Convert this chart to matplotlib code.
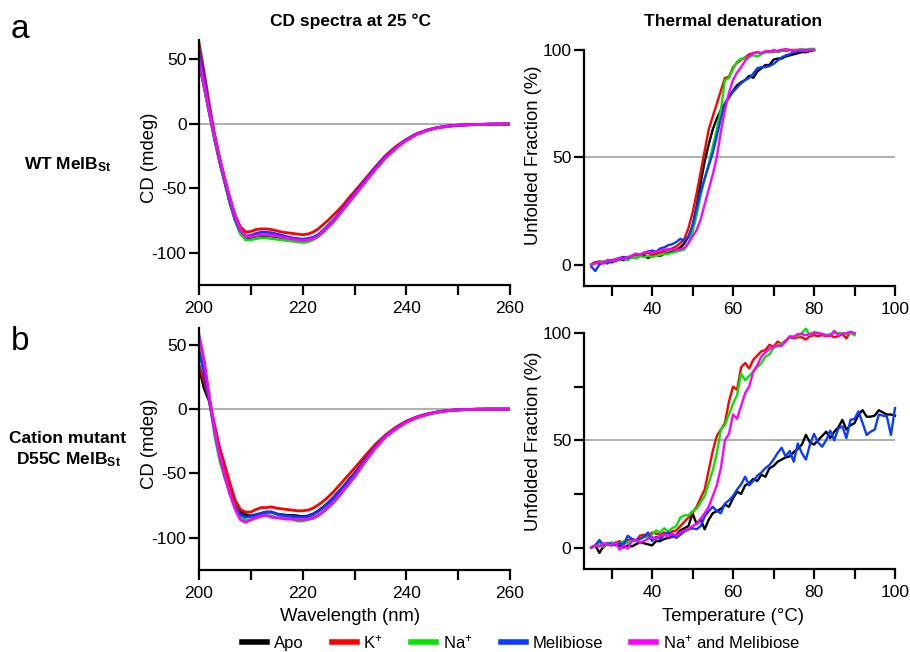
import matplotlib
matplotlib.use('Agg')
import matplotlib.pyplot as plt
from matplotlib.lines import Line2D

plt.rcParams['font.family'] = ['Liberation Sans', 'DejaVu Sans']
plt.rcParams['mathtext.fontset'] = 'custom'
plt.rcParams['mathtext.rm'] = 'Liberation Sans'
plt.rcParams['mathtext.bf'] = 'Liberation Sans:bold'
plt.rcParams['mathtext.it'] = 'Liberation Sans:italic'
plt.rcParams['axes.unicode_minus'] = False

# ---- data ----
wavelength = list(range(200, 231)) + list(range(232, 261, 2))

# panel a, WT MelB_St, CD (mdeg)
cd_wt_apo = [48, 28, 8, -12, -30, -46, -62, -75, -85, -89.5, -89.5, -88.5, -88, -88, -88.5, -89,
             -89.5, -90, -90.5, -91, -91, -90.5, -89, -86.5, -83, -79, -75, -70, -65, -60, -55,
             -45, -35, -26, -18.5, -12.5, -8, -5, -3, -1.8, -1.1, -0.7, -0.5, -0.3, -0.2, -0.2]
cd_wt_k = [63, 40, 15, -8, -27, -43, -58, -71, -80, -84, -83.5, -82, -81.5, -81.5, -82, -83,
           -84, -84.5, -85, -85.5, -86, -85.5, -84, -81.5, -78, -74.5, -70.5, -66.5, -62, -57, -52.5,
           -43, -33.5, -24.5, -17.5, -12, -7.6, -4.8, -2.9, -1.7, -1.0, -0.7, -0.5, -0.3, -0.2, -0.2]
cd_wt_na = [50, 29, 9, -11, -29, -45, -61, -75, -85, -90, -90, -89, -88.5, -88.5, -89, -89.5,
            -90, -90.5, -91, -91.5, -92, -91.5, -90, -87.5, -84, -80, -76, -71, -66, -61, -56,
            -45.5, -35.5, -26.5, -19, -12.8, -8.2, -5.1, -3.1, -1.9, -1.1, -0.7, -0.5, -0.3, -0.2, -0.2]
cd_wt_mel = [57, 35, 12, -9, -28, -44, -60, -74, -83, -87, -86.5, -85, -84, -84, -84.5, -85.5,
             -86.5, -87.5, -88.5, -89, -89.5, -89, -88, -86, -82.5, -78.5, -74.5, -69.5, -64.5, -59.5, -54.5,
             -44.5, -34.5, -25.5, -18.5, -12.5, -8, -5, -3, -1.8, -1.1, -0.7, -0.5, -0.3, -0.2, -0.2]
cd_wt_namel = [50, 30, 10, -9, -27, -43, -58, -72, -82, -87.5, -87.5, -86.5, -86, -86, -86.5, -87,
               -88, -88.5, -89.5, -90, -90.5, -90, -89, -87, -83.5, -79.5, -75.5, -70.5, -65.5, -60.5, -55.5,
               -45.5, -35.5, -26.5, -19, -12.8, -8.2, -5.1, -3.1, -1.9, -1.1, -0.7, -0.5, -0.3, -0.2, -0.1]

# panel b, D55C MelB_St, CD (mdeg)
cd_mut_apo = [33, 16, 6, -16, -36, -52, -65, -75, -80, -82, -83, -82, -81, -80, -80, -81.5,
              -82, -82.5, -82.5, -83, -83.5, -83, -81.5, -79, -76, -72.5, -68.5, -64, -59.5, -54.5, -50,
              -39.5, -29.5, -21, -15, -10, -6.5, -4, -2.3, -1.2, -0.6, -0.3, -0.1, 0, 0, 0]
cd_mut_k = [34, 22, 7, -12, -30, -44, -58, -71, -78, -80, -80, -78, -76.5, -76.5, -76, -77,
            -77.5, -78, -78.5, -79, -79, -78.5, -77, -74.5, -71.5, -68, -64, -59.5, -55, -50.5, -46,
            -36.5, -27.5, -20, -14, -9.3, -6, -3.7, -2.1, -1.1, -0.5, -0.2, 0, 0, 0, 0]
cd_mut_na = [50, 32, 8, -20, -40, -54, -66, -76, -83, -86.5, -86, -84.5, -83.5, -82.5, -83, -84.5,
             -84, -84.5, -85.5, -87, -87, -86, -85, -83, -80, -76.5, -72.5, -68, -63, -58, -53,
             -41, -30.5, -21.5, -15.5, -10.3, -6.7, -4.2, -2.4, -1.3, -0.7, -0.3, -0.1, 0, 0, 0]
cd_mut_mel = [45, 28, 7, -16, -36, -52, -66, -77, -82, -84, -83.5, -82.5, -81, -80, -80, -81.5,
              -82.5, -83, -83.5, -84, -84, -83.5, -82, -79.5, -76.5, -73, -69, -64.5, -60, -55, -50.5,
              -39.5, -29.5, -21, -15, -10, -6.5, -4, -2.3, -1.2, -0.6, -0.3, -0.1, 0, 0, 0]
cd_mut_namel = [58, 38, 10, -16, -36, -52, -66, -78, -86, -88, -86, -84.5, -83, -82.5, -84, -84.5,
                -85, -85.5, -85.5, -86, -86, -85.5, -84.5, -82.5, -79.5, -76, -72, -67.5, -62.5, -57.5, -52.5,
                -41, -30.5, -21.5, -15.5, -10.3, -6.7, -4.2, -2.4, -1.3, -0.7, -0.3, -0.1, 0, 0, 0]

# thermal denaturation, unfolded fraction (%)
temp_80 = list(range(25, 81))
temp_90 = list(range(25, 91))
temp_100 = list(range(25, 101))

tm_wt_apo = [0, 1, 0.5, 1, 1.5, 1, 2, 2.5, 2, 3,
             3.5, 3, 4, 4.5, 3, 4, 4.5, 4, 5, 5.5,
             6, 7, 8, 10, 13, 18, 27, 38, 48, 56,
             63, 68, 72, 75, 78, 81, 83.5, 85, 86, 88,
             87, 90, 91.5, 93, 93, 95.5, 96, 96, 97, 97.5,
             98, 98.5, 99, 99, 99.5, 100]
tm_wt_k = [0, 1, 1.5, 1, 2, 2, 2.5, 3, 3.5, 3,
           4, 4.5, 4, 5, 5.5, 4.5, 5, 5.5, 6, 7,
           7.5, 8.5, 10, 12, 17, 24, 33, 43, 53, 63,
           69, 75, 81, 87, 87.5, 92, 94, 95.5, 96.5, 98,
           98.5, 99, 98.5, 99, 99.5, 99, 99.5, 100, 99.5, 100,
           100, 100, 100, 100, 100, 100]
tm_wt_na = [0, 0.5, 1, 1.5, 1, 2, 2, 3, 2.5, 2,
            3.5, 3, 4, 3.5, 4, 3.5, 4, 4.5, 5, 5,
            5.5, 6, 6.5, 7, 10, 15, 23, 32, 40, 47,
            55, 63, 72, 86, 87, 91, 94.5, 96, 96, 97,
            97.5, 97, 98, 99, 99, 99.5, 99, 99.5, 100, 100,
            100, 100, 100.5, 100, 100.5, 100.5]
tm_wt_mel = [-1, -3, 0, 1, 0.5, 2, 1.5, 3, 3.5, 3,
             4, 5, 4.5, 5.5, 6, 6.5, 6, 7.5, 8, 9,
             9.5, 10.5, 12, 11, 13, 18, 26, 34, 40, 46,
             52, 60, 68, 75, 78, 80.5, 82.5, 84.5, 86, 87,
             89, 91.5, 92, 92, 92.5, 93.5, 95, 96.5, 97.5, 98,
             99, 99.5, 99.5, 100, 100, 100]
tm_wt_namel = [0, 0.5, 1, 0.5, 2, 1.5, 2, 3, 2.5, 3.5,
               4, 5, 4.5, 5.5, 6, 5.5, 6, 6.5, 7, 7,
               7, 7, 7, 8, 10, 13, 16, 21, 28, 35,
               42, 50, 62, 72, 80, 86, 89.5, 92, 95, 97,
               98.5, 99, 98.5, 99.5, 99, 100, 99.5, 100, 100.5, 100,
               99.5, 100, 100, 99.5, 100, 100]

tm_mut_apo = [0, 1, -2.5, 0.5, 1.5, 1, 2, 1, 0, 1,
              0.5, 1.5, 2.5, 2, 1.5, 1, 3, 3, 4, 4.5,
              5, 6, 8, 9, 10, 16, 11, 13, 8.5, 13,
              16, 17, 18, 20, 19, 23, 26, 25, 29, 30,
              32, 31, 34, 33, 37, 38, 40, 41, 42, 42.5,
              44.5, 46, 48, 52.5, 49, 48, 50, 52, 54, 51,
              54, 56, 59.5, 55, 57, 58, 62, 64, 61, 61,
              61.5, 64, 63, 62, 62, 61.5]
tm_mut_k = [0, 1, 3, 0, 2, 1.5, 2, 3, 1.5, 3.5,
            4, 3, 5.5, 6, 5, 7, 6.5, 6, 7, 6.5,
            7.5, 8, 10, 12, 14, 16, 19, 23, 27, 36,
            45, 52, 55, 58, 68, 75, 73.5, 84, 86, 83.5,
            87.5, 89.5, 91.5, 92, 94.5, 93.5, 96, 95, 96.5, 98,
            97.5, 98, 98, 97, 98.5, 99, 98.5, 99, 98.5, 99,
            98, 98.5, 99.5, 97.5, 100.5, 99.5]
tm_mut_na = [0, 1, 2, 0.5, 1.5, 2.5, 1.5, 2, 3, 2,
             3.5, 3, 4, 5, 4.5, 6, 8, 7, 9, 7.5,
             9, 10, 14, 15, 15, 17, 18, 21, 24, 30,
             36, 44, 55, 57, 62, 67, 71, 81, 78, 80,
             82, 84, 86, 89, 90, 93, 94.5, 95, 96, 98,
             98.5, 98.5, 100, 102, 99, 100.5, 100, 99.5, 99, 99.5,
             100, 100, 100, 99.5, 100, 99]
tm_mut_mel = [0, 1, 3.5, 1, 2, 1.5, 1, 2, 1.5, 5.5,
              4, 3.5, 4, 5, 7, 3, 5, 4, 6, 7,
              5.5, 4.5, 6, 7.5, 8.5, 9, 8.5, 10, 14.5, 17,
              19, 17, 16, 20.5, 22, 24, 27, 29.5, 33, 29,
              31, 33.5, 35, 37, 38.5, 41, 44, 46.5, 42.5, 45,
              40, 48.5, 44, 41, 48, 53, 49, 47, 50, 54.5,
              50, 55.5, 56.5, 51, 59.5, 60, 63.5, 58, 52.5, 54,
              55, 62, 61.5, 61, 52.5, 65]
tm_mut_namel = [0, 1, 0.5, 2, 1.5, 1, 2.5, -1, 1, -0.5,
                3, 3.5, 2.5, 3, 4, 5, 4, 5.5, 6, 5,
                6.5, 5.5, 7, 8, 8.5, 10, 11, 13.5, 16, 19,
                24, 29, 37, 50, 53, 62, 60, 66, 72, 75,
                82, 85, 89, 91, 92.5, 93.5, 94, 94, 96, 98.5,
                98, 99.5, 99.5, 99, 99.5, 100, 100, 99.5, 99, 98.5,
                101, 99, 99.5, 100, 100.5, 100]

labels = ['Apo', 'K$^{+}$', 'Na$^{+}$', 'Melibiose', 'Na$^{+}$ and Melibiose']
colors = ['#000000', '#ff0000', '#00e600', '#0a3cff', '#ff00ff']

W, H = 910, 652
fig = plt.figure(figsize=(W / 100, H / 100), dpi=100)


def px_axes(x0, y0, x1, y1):
    return fig.add_axes([x0 / W, 1 - y1 / H, (x1 - x0) / W, (y1 - y0) / H])


def style(ax):
    ax.spines['top'].set_visible(False)
    ax.spines['right'].set_visible(False)
    ax.spines['left'].set_linewidth(1.6)
    ax.spines['bottom'].set_linewidth(1.6)
    ax.tick_params(which='both', direction='out', length=7, width=1.6, labelsize=12.5)
    ax.tick_params(axis='x', pad=4.5)
    ax.tick_params(axis='y', pad=2)


ax_a1 = px_axes(199, 40, 510, 285)
ax_a2 = px_axes(584, 50, 895, 286)
ax_b1 = px_axes(199, 328, 510, 570)
ax_b2 = px_axes(584, 333, 895, 569)

# CD spectra
for ax, series, ytop, ly in [(ax_a1, [cd_wt_apo, cd_wt_k, cd_wt_na, cd_wt_mel, cd_wt_namel], 65, 0.52),
                             (ax_b1, [cd_mut_apo, cd_mut_k, cd_mut_na, cd_mut_mel, cd_mut_namel], 63, 0.52)]:
    ax.axhline(0, color='#999999', lw=1.1, zorder=0)
    for s, c in zip(series, colors):
        ax.plot(wavelength, s, color=c, lw=2.0)
    ax.set_xlim(200, 260)
    ax.set_ylim(-125, ytop)
    ax.set_xticks([200, 220, 240, 260])
    ax.set_xticks([210, 230, 250], minor=True)
    ax.set_yticks([-100, -50, 0, 50])
    style(ax)
    ax.set_ylabel('CD (mdeg)', fontsize=13.3)
    ax.yaxis.set_label_coords(-0.132, ly)

# thermal denaturation
for ax, temps, series, ly in [(ax_a2, [temp_80] * 5,
                               [tm_wt_apo, tm_wt_k, tm_wt_na, tm_wt_mel, tm_wt_namel], 0.555),
                              (ax_b2, [temp_100, temp_90, temp_90, temp_100, temp_90],
                               [tm_mut_apo, tm_mut_k, tm_mut_na, tm_mut_mel, tm_mut_namel], 0.542)]:
    ax.axhline(50, color='#999999', lw=1.1, zorder=0)
    for t, s, c in zip(temps, series, colors):
        ax.plot(t, s, color=c, lw=1.7, clip_on=False)
    ax.set_xlim(23.2, 100)
    ax.set_ylim(-10, 100)
    ax.set_xticks([40, 60, 80, 100])
    ax.set_xticks([30, 50, 70, 90], minor=True)
    ax.set_yticks([0, 50, 100])
    style(ax)
    ax.set_ylabel('Unfolded Fraction (%)', fontsize=13.3)
    ax.yaxis.set_label_coords(-0.135, ly)

ax_b2.set_yticks([25, 75], minor=True)
ax_a2.tick_params(axis='y', which='minor', length=0)

ax_b1.set_xlabel('Wavelength (nm)', fontsize=13.3)
ax_b1.xaxis.set_label_coords(0.486, -0.158)
ax_b2.set_xlabel('Temperature (°C)', fontsize=13.3)
ax_b2.xaxis.set_label_coords(0.479, -0.166)


def ftext(x, y, s, **kw):
    fig.text(x / W, 1 - y / H, s, **kw)


ftext(350, 21, 'CD spectra at 25 °C', fontsize=12.5, weight='bold', ha='center', va='center')
ftext(733, 21, 'Thermal denaturation', fontsize=12.5, weight='bold', ha='center', va='center')
ftext(20, 38, 'a', fontsize=24, ha='center', va='baseline')
ftext(20, 350, 'b', fontsize=24, ha='center', va='baseline')
ftext(68, 165, r'WT MelB$_{\mathbf{St}}$', fontsize=12.5, weight='bold', ha='center', va='center')
ftext(68, 450, 'Cation mutant\nD55C MelB$_{\\mathbf{St}}$', fontsize=12.5, weight='bold',
      ha='center', va='center', multialignment='center', linespacing=1.25)

handles = [Line2D([], [], color=c, lw=4) for c in colors]
fig.legend(handles, labels, loc='center', bbox_to_anchor=(521 / W, 1 - 642 / H), ncol=5,
           frameon=False, fontsize=12, handlelength=1.5, handletextpad=0.4,
           columnspacing=1.7, borderpad=0, borderaxespad=0)

fig.savefig('out.png', dpi=100)
